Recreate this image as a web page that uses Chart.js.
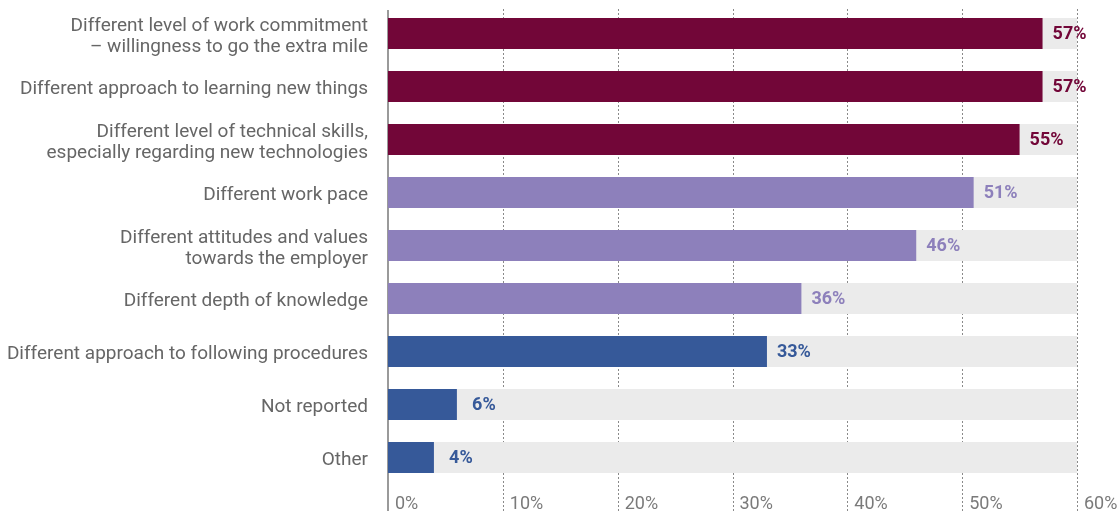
<!DOCTYPE html>
<html>
<head>
<meta charset="utf-8">
<script src="https://cdn.jsdelivr.net/npm/chart.js@4"></script>
<style>
  html, body { margin: 0; padding: 0; background: #fff; }
  #wrap { width: 1120px; height: 511px; }
</style>
</head>
<body>
<div id="wrap"><canvas id="chart"></canvas></div>
<script>
/* DATA */
const categories = [
  ["Different level of work commitment", "– willingness to go the extra mile"],
  "Different approach to learning new things",
  ["Different level of technical skills,", "especially regarding new technologies"],
  "Different work pace",
  ["Different attitudes and values", "towards the employer"],
  "Different depth of knowledge",
  "Different approach to following procedures",
  "Not reported",
  "Other",
];
const values = [57, 57, 55, 51, 46, 36, 33, 6, 4];
const groups = ["top", "top", "top", "mid", "mid", "mid", "low", "low", "low"];
const background = [60, 60, 60, 60, 60, 60, 60, 60, 60];
const tickValues = [0, 10, 20, 30, 40, 50, 60];

const groupColors = { top: "#720638", mid: "#8d80bb", low: "#365999" };
const barColors = groups.map((g) => groupColors[g]);

/* GRID + AXIS LINE */
const gridPlugin = {
  id: "gridLines",
  beforeDatasetsDraw(chart) {
    const { ctx, chartArea, scales } = chart;
    const x = scales.x;
    ctx.save();
    tickValues.forEach((v) => {
      const px = Math.round(x.getPixelForValue(v)) + 0.5;
      ctx.beginPath();
      if (v === 0) {
        ctx.setLineDash([]);
        ctx.strokeStyle = "#9a9a9a";
        ctx.lineWidth = 2;
        ctx.moveTo(px - 0.5, chartArea.top + 3);
        ctx.lineTo(px - 0.5, chart.height);
      } else {
        ctx.setLineDash([2, 2]);
        ctx.strokeStyle = "#8a8a8a";
        ctx.lineWidth = 1;
        ctx.moveTo(px, chartArea.top + 2);
        ctx.lineTo(px, chart.height);
      }
      ctx.stroke();
    });
    ctx.restore();
  },
};

/* VALUE LABELS */
const valueLabels = {
  id: "valueLabels",
  afterDatasetsDraw(chart) {
    const { ctx } = chart;
    const meta = chart.getDatasetMeta(0);
    ctx.save();
    ctx.font = "bold 18px Roboto";
    ctx.textAlign = "center";
    ctx.textBaseline = "middle";
    meta.data.forEach((bar, i) => {
      ctx.fillStyle = barColors[i];
      ctx.fillText(values[i] + "%", bar.x + 27, bar.y + 1);
    });
    ctx.restore();
  },
};

new Chart(document.getElementById("chart"), {
  type: "bar",
  data: {
    labels: categories,
    datasets: [
      {
        data: values,
        backgroundColor: barColors,
        grouped: false,
        categoryPercentage: 1,
        barPercentage: 0.585,
      },
      {
        data: background,
        backgroundColor: "#ebebeb",
        grouped: false,
        categoryPercentage: 1,
        barPercentage: 0.585,
      },
    ],
  },
  options: {
    indexAxis: "y",
    responsive: true,
    maintainAspectRatio: false,
    animation: false,
    layout: { autoPadding: false, padding: { top: 7, right: 43, left: 0, bottom: 0 } },
    plugins: { legend: { display: false }, tooltip: { enabled: false } },
    scales: {
      x: {
        min: 0,
        max: 60,
        afterBuildTicks: (s) => (s.ticks = tickValues.map((v) => ({ value: v }))),
        afterFit: (s) => {
          s.height = 27;
          s.paddingLeft = s.paddingRight = s.paddingTop = s.paddingBottom = 0;
        },
        grid: { display: false, drawTicks: false },
        border: { display: false },
        ticks: {
          align: "start",
          labelOffset: 7,
          padding: 10,
          color: "#7a7a7a",
          font: { family: "Roboto", size: 18 },
          callback: (v) => v + "%",
        },
      },
      y: {
        afterFit: (s) => {
          s.width = 388;
          s.paddingLeft = s.paddingRight = s.paddingTop = s.paddingBottom = 0;
        },
        grid: { display: false, drawTicks: false },
        border: { display: false },
        ticks: {
          padding: 20,
          labelOffset: 3,
          color: "#666",
          font: { family: "Roboto", size: 19, lineHeight: 1.1 },
        },
      },
    },
  },
  plugins: [gridPlugin, valueLabels],
});
</script>
</body>
</html>
